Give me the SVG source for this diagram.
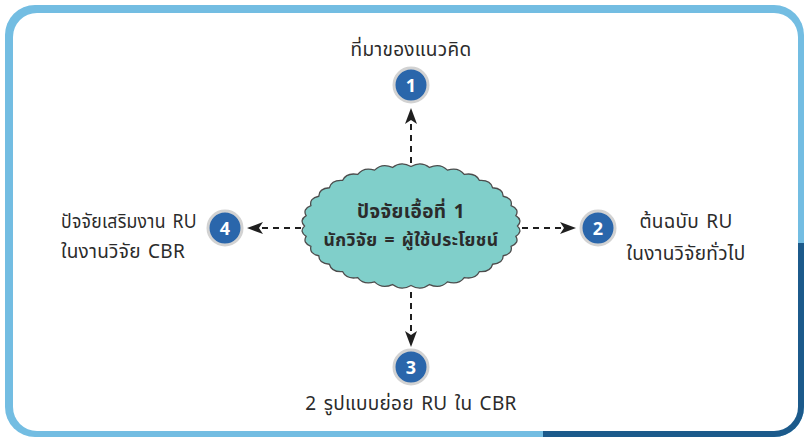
<svg xmlns="http://www.w3.org/2000/svg" width="805" height="442" viewBox="0 0 805 442">
<defs>
<style>
.lbl{font-family:"Noto Sans Thai","Noto Sans","Liberation Sans",sans-serif;font-size:19px;fill:#2b2b2b;letter-spacing:0.3px;word-spacing:2px;}
.ctr{text-anchor:middle;}
.num{font-family:"Noto Sans","Liberation Sans",sans-serif;font-size:18px;font-weight:bold;fill:#ffffff;text-anchor:middle;}
.badge{fill:#2a66ab;stroke:#d2d2d2;stroke-width:3;}
.dash{stroke:#1f1f1f;stroke-width:2;stroke-dasharray:6 5;fill:none;}
.head{fill:#1f1f1f;}
.big{font-family:"Noto Sans Thai","Noto Sans","Liberation Sans",sans-serif;font-weight:bold;fill:#2b2b2b;text-anchor:middle;letter-spacing:0.4px;word-spacing:2px;}
</style>
<clipPath id="darkClip"><rect x="543" y="243" width="262" height="199"/></clipPath>
<path id="ah" d="M0,0 L-16,-6 L-12,0 L-16,6 Z"/>
</defs>
<g id="frame">
<rect x="5" y="5" width="799" height="432" rx="30" fill="#73bde2"/>
<rect x="5" y="5" width="799" height="432" rx="30" fill="#1c5a8b" clip-path="url(#darkClip)"/>
<rect x="13" y="13" width="785" height="418" rx="24" fill="#ffffff"/>
</g>
<g id="connectors">
<line class="dash" x1="411" y1="163" x2="411" y2="122"/>
<use href="#ah" class="head" transform="translate(411,108) rotate(-90)"/>
<line class="dash" x1="522" y1="228" x2="562" y2="228"/>
<use href="#ah" class="head" transform="translate(576,228)"/>
<line class="dash" x1="411" y1="292" x2="411" y2="333"/>
<use href="#ah" class="head" transform="translate(411,347) rotate(90)"/>
<line class="dash" x1="301" y1="228" x2="261" y2="228"/>
<use href="#ah" class="head" transform="translate(247,228) rotate(180)"/>
</g>
<g id="center">
<path transform="translate(411,226)" fill="#80cfca" stroke="#4d4d4d" stroke-width="1.3" d="M106.5,0 Q112.07,5.71 104.88,10.33 Q108.66,16.95 100.08,20.35 Q101.96,27.68 92.23,29.75 Q92.16,37.57 81.58,38.25 Q79.55,46.31 68.46,45.58 Q64.53,53.66 53.25,51.53 Q47.54,59.36 36.42,55.91 Q29.12,63.27 18.49,58.6 Q9.81,65.25 0,59.5 Q-9.81,65.25 -18.49,58.6 Q-29.12,63.27 -36.42,55.91 Q-47.54,59.36 -53.25,51.53 Q-64.53,53.66 -68.46,45.58 Q-79.55,46.31 -81.58,38.25 Q-92.16,37.57 -92.23,29.75 Q-101.96,27.68 -100.08,20.35 Q-108.66,16.95 -104.88,10.33 Q-112.07,5.71 -106.5,0 Q-112.07,-5.71 -104.88,-10.33 Q-108.66,-16.95 -100.08,-20.35 Q-101.96,-27.68 -92.23,-29.75 Q-92.16,-37.57 -81.58,-38.25 Q-79.55,-46.31 -68.46,-45.58 Q-64.53,-53.66 -53.25,-51.53 Q-47.54,-59.36 -36.42,-55.91 Q-29.12,-63.27 -18.49,-58.6 Q-9.81,-65.25 0,-59.5 Q9.81,-65.25 18.49,-58.6 Q29.12,-63.27 36.42,-55.91 Q47.54,-59.36 53.25,-51.53 Q64.53,-53.66 68.46,-45.58 Q79.55,-46.31 81.58,-38.25 Q92.16,-37.57 92.23,-29.75 Q101.96,-27.68 100.08,-20.35 Q108.66,-16.95 104.88,-10.33 Q112.07,-5.71 106.5,0 Z"/>
<text class="big" x="411" y="218" font-size="19">ปัจจัยเอื้อที่ 1</text>
<text class="big" x="411" y="246" font-size="17.5">นักวิจัย = ผู้ใช้ประโยชน์</text>
</g>
<g id="node1">
<circle class="badge" cx="411" cy="85" r="17"/>
<text class="num" x="411" y="91.5">1</text>
<text class="lbl ctr" x="411" y="56">ที่มาของแนวคิด</text>
</g>
<g id="node2">
<circle class="badge" cx="598" cy="228" r="17"/>
<text class="num" x="598" y="234.5">2</text>
<text class="lbl ctr" x="686" y="228">ต้นฉบับ RU</text>
<text class="lbl ctr" x="686" y="260">ในงานวิจัยทั่วไป</text>
</g>
<g id="node3">
<circle class="badge" cx="411" cy="367" r="17"/>
<text class="num" x="411" y="373.5">3</text>
<text class="lbl ctr" x="411" y="410">2 รูปแบบย่อย RU ใน CBR</text>
</g>
<g id="node4">
<circle class="badge" cx="225" cy="228" r="17"/>
<text class="num" x="225" y="234.5">4</text>
<text class="lbl" x="61" y="228" textLength="136" lengthAdjust="spacingAndGlyphs">ปัจจัยเสริมงาน RU</text>
<text class="lbl" x="61" y="258">ในงานวิจัย CBR</text>
</g>
</svg>
